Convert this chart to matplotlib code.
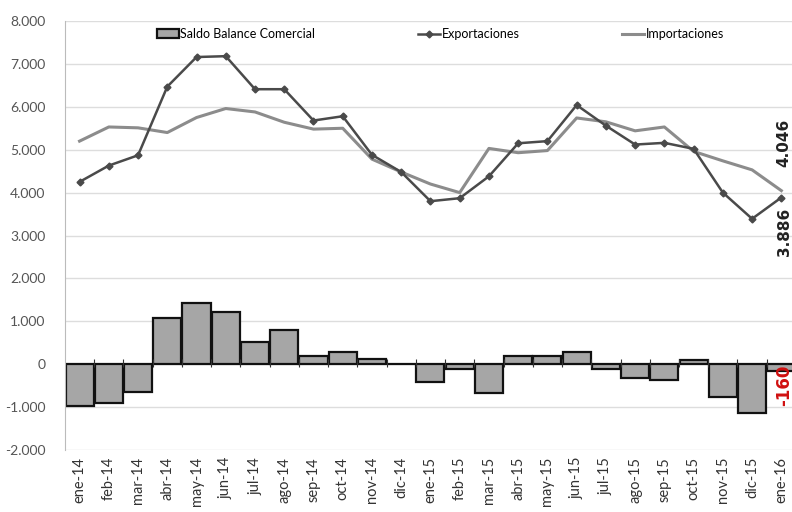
import matplotlib.pyplot as plt
from matplotlib.ticker import FuncFormatter
from matplotlib.lines import Line2D
from matplotlib.patches import Patch

# Datos (millones USD), ene-14 .. ene-16
meses = ['ene-14', 'feb-14', 'mar-14', 'abr-14', 'may-14', 'jun-14', 'jul-14',
         'ago-14', 'sep-14', 'oct-14', 'nov-14', 'dic-14', 'ene-15', 'feb-15',
         'mar-15', 'abr-15', 'may-15', 'jun-15', 'jul-15', 'ago-15', 'sep-15',
         'oct-15', 'nov-15', 'dic-15', 'ene-16']
exportaciones = [4250, 4630, 4870, 6470, 7160, 7180, 6410, 6410, 5680, 5780,
                 4880, 4480, 3800, 3870, 4380, 5150, 5200, 6040, 5560, 5120,
                 5160, 5020, 4000, 3390, 3886]
importaciones = [5200, 5530, 5510, 5400, 5750, 5960, 5880, 5640, 5480, 5500,
                 4780, 4480, 4200, 4000, 5030, 4930, 4980, 5740, 5650, 5440,
                 5530, 4960, 4740, 4530, 4046]
saldo = [-970, -910, -650, 1070, 1420, 1220, 520, 800, 190, 275, 120, 15,
         -425, -120, -680, 190, 200, 285, -100, -320, -370, 95, -760, -1140, -160]

plt.rcParams['font.family'] = ['Lato', 'DejaVu Sans']

fig = plt.figure(figsize=(7.92, 5.12), dpi=100)
ax = fig.add_axes([0.082, 0.121, 0.923, 0.838])

x = list(range(len(meses)))
ax.bar(x, saldo, width=0.96, color='#a6a6a6', edgecolor='#111111',
       linewidth=1.6, zorder=2)
ax.plot(x, importaciones, color='#8c8c8c', linewidth=2.2, zorder=3)
ax.plot(x, exportaciones, color='#4a4a4a', linewidth=1.8, marker='D',
        markersize=3.5, zorder=4)

ax.set_ylim(-2000, 8000)
ax.set_xlim(-0.5, len(meses) - 0.5)
ax.set_yticks(range(-2000, 8001, 1000))
ax.yaxis.set_major_formatter(FuncFormatter(
    lambda v, p: f'{int(v):,}'.replace(',', '.')))
ax.set_xticks(x)
ax.set_xticklabels(meses, rotation=90)
ax.tick_params(axis='y', length=0, labelsize=10, colors='#555555', pad=14)
ax.tick_params(axis='x', length=0, labelsize=10.5, colors='#333333', pad=5)
ax.grid(axis='y', color='#dddddd', linewidth=1, zorder=0)
for s in ['top', 'right', 'bottom']:
    ax.spines[s].set_visible(False)
ax.spines['left'].set_color('#bbbbbb')
ax.axhline(0, color='#111111', linewidth=1.4, zorder=2.5)

# marcas cortas del eje de categorías sobre la línea de cero
ax.vlines([i + 0.5 for i in x[:-1]], -60, 120, color='#333333',
          linewidth=0.8, zorder=2.6)

handles = [Patch(facecolor='#a6a6a6', edgecolor='#111111', linewidth=1.6),
           Line2D([], [], color='#4a4a4a', linewidth=1.8, marker='D', markersize=3.5),
           Line2D([], [], color='#8c8c8c', linewidth=2.2)]
ax.legend(handles, ['Saldo Balance Comercial', 'Exportaciones', 'Importaciones'],
          loc='upper left', bbox_to_anchor=(0.11, 1.01), ncol=3, frameon=False,
          fontsize=9, columnspacing=8.2, handlelength=1.8, handletextpad=0.1)

# Etiquetas del último mes
ax.text(24.1, 5150, '4.046', rotation=90, ha='center', va='center',
        fontsize=11, fontweight='bold', color='#222222', family='DejaVu Sans')
ax.text(24.1, 3080, '3.886', rotation=90, ha='center', va='center',
        fontsize=11, fontweight='bold', color='#222222', family='DejaVu Sans')
ax.text(24.1, -500, '-160', rotation=90, ha='center', va='center',
        fontsize=12, fontweight='bold', color='#d01010', family='DejaVu Sans')

fig.savefig('out.png', dpi=100)
